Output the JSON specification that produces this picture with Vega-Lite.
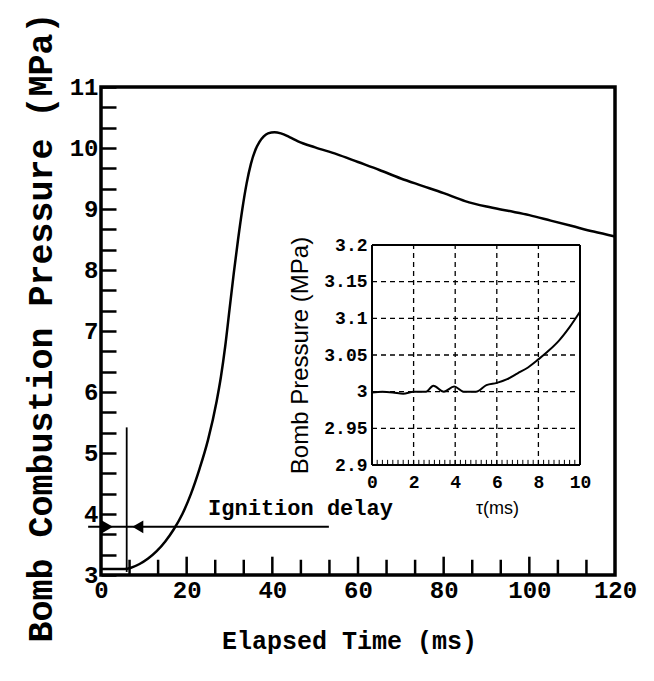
{
  "$schema": "https://vega.github.io/schema/vega-lite/v6.json",
  "width": 514,
  "height": 488,
  "autosize": {"type": "none"},
  "padding": {"left": 101, "top": 87, "right": 39, "bottom": 106},
  "background": "white",
  "config": {
    "view": {"stroke": "black", "strokeWidth": 3.5},
    "axis": {"labelColor": "black", "titleColor": "black", "tickColor": "black", "domainColor": "black", "labelOverlap": false, "labelFlush": false}
  },
  "datasets": {
    "main": [
      {"t": 0, "p": 3.1}, {"t": 3, "p": 3.1}, {"t": 5.5, "p": 3.1}, {"t": 7, "p": 3.12},
      {"t": 9, "p": 3.18}, {"t": 11, "p": 3.27}, {"t": 13, "p": 3.39}, {"t": 15, "p": 3.55},
      {"t": 17, "p": 3.75}, {"t": 19, "p": 4.0}, {"t": 21, "p": 4.33}, {"t": 23, "p": 4.74},
      {"t": 25, "p": 5.22}, {"t": 27, "p": 5.85}, {"t": 28, "p": 6.25}, {"t": 29, "p": 6.75},
      {"t": 30, "p": 7.35}, {"t": 31, "p": 7.95}, {"t": 32, "p": 8.5}, {"t": 33, "p": 9.0},
      {"t": 34, "p": 9.42}, {"t": 35, "p": 9.74}, {"t": 36, "p": 9.96}, {"t": 37, "p": 10.1},
      {"t": 38, "p": 10.19}, {"t": 39, "p": 10.24}, {"t": 40.5, "p": 10.26}, {"t": 42, "p": 10.24},
      {"t": 44, "p": 10.18}, {"t": 46, "p": 10.11}, {"t": 50, "p": 10.01}, {"t": 55, "p": 9.9},
      {"t": 60, "p": 9.77}, {"t": 65, "p": 9.64}, {"t": 70, "p": 9.5}, {"t": 75, "p": 9.38},
      {"t": 80, "p": 9.26}, {"t": 85, "p": 9.13}, {"t": 90, "p": 9.04}, {"t": 95, "p": 8.97},
      {"t": 100, "p": 8.9}, {"t": 105, "p": 8.81}, {"t": 110, "p": 8.72}, {"t": 115, "p": 8.63},
      {"t": 120, "p": 8.55}
    ],
    "inset": [
      {"tau": 0, "p": 2.999}, {"tau": 0.5, "p": 3.0}, {"tau": 1.0, "p": 2.999}, {"tau": 1.5, "p": 2.997},
      {"tau": 2.0, "p": 3.0}, {"tau": 2.6, "p": 3.0}, {"tau": 2.95, "p": 3.008}, {"tau": 3.45, "p": 3.0},
      {"tau": 3.95, "p": 3.007}, {"tau": 4.4, "p": 3.0}, {"tau": 5.0, "p": 3.0}, {"tau": 5.5, "p": 3.009},
      {"tau": 6.0, "p": 3.012}, {"tau": 6.5, "p": 3.017}, {"tau": 7.0, "p": 3.025}, {"tau": 7.5, "p": 3.033},
      {"tau": 8.0, "p": 3.044}, {"tau": 8.5, "p": 3.056}, {"tau": 9.0, "p": 3.07}, {"tau": 9.5, "p": 3.088},
      {"tau": 10.0, "p": 3.109}
    ],
    "tickMajor": [{"v": 20}, {"v": 40}, {"v": 60}, {"v": 80}, {"v": 100}],
    "tickMinor": [{"v": 6.667}, {"v": 13.333}, {"v": 26.667}, {"v": 33.333}, {"v": 46.667}, {"v": 53.333}, {"v": 66.667}, {"v": 73.333}, {"v": 86.667}, {"v": 93.333}, {"v": 106.667}, {"v": 113.333}],
    "tickTau": [{"v": 0.25}, {"v": 0.5}, {"v": 0.75}, {"v": 1}, {"v": 1.25}, {"v": 1.5}, {"v": 1.75}, {"v": 2}, {"v": 2.25}, {"v": 2.5}, {"v": 2.75}, {"v": 3}, {"v": 3.25}, {"v": 3.5}, {"v": 3.75}, {"v": 4}, {"v": 4.25}, {"v": 4.5}, {"v": 4.75}, {"v": 5}, {"v": 5.25}, {"v": 5.5}, {"v": 5.75}, {"v": 6}, {"v": 6.25}, {"v": 6.5}, {"v": 6.75}, {"v": 7}, {"v": 7.25}, {"v": 7.5}, {"v": 7.75}, {"v": 8}, {"v": 8.25}, {"v": 8.5}, {"v": 8.75}, {"v": 9}, {"v": 9.25}, {"v": 9.5}, {"v": 9.75}],
    "gridTau": [{"g": 2}, {"g": 4}, {"g": 6}, {"g": 8}],
    "gridP": [{"g": 2.95}, {"g": 3.0}, {"g": 3.05}, {"g": 3.1}, {"g": 3.15}]
  },
  "layer": [
    {
      "layer": [
        {
          "data": {"name": "main"},
          "mark": {"type": "line", "color": "black", "strokeWidth": 2.5, "interpolate": "monotone"},
          "encoding": {
            "x": {
              "field": "t", "type": "quantitative",
              "scale": {"domain": [0, 120], "nice": false, "zero": false},
              "axis": {
                "orient": "bottom",
                "values": [0, 20, 40, 60, 80, 100, 120],
                "tickCount": 200,
                "format": "d",
                "labelOverlap": false,
                "grid": false, "domain": false, "ticks": false,
                "labelPadding": 3,
                "labelFont": "Liberation Mono", "labelFontWeight": "bold", "labelFontSize": 24,
                "title": "Elapsed Time (ms)",
                "titleFont": "Liberation Mono", "titleFontWeight": "bold", "titleFontSize": 25,
                "titleX": 248, "titleY": 65, "titleAlign": "center", "titleBaseline": "middle"
              }
            },
            "y": {
              "field": "p", "type": "quantitative",
              "scale": {"domain": [3, 11], "nice": false, "zero": false},
              "axis": {
                "orient": "left", "offset": -15,
                "values": [3, 3.333, 3.667, 4, 4.333, 4.667, 5, 5.333, 5.667, 6, 6.333, 6.667, 7, 7.333, 7.667, 8, 8.333, 8.667, 9, 9.333, 9.667, 10, 10.333, 10.667, 11],
                "tickCount": 200,
                "labelExpr": "datum.value % 1 === 0 ? format(datum.value, 'd') : ''",
                "labelOverlap": false,
                "grid": false, "domain": false,
                "ticks": true, "tickSize": 15, "tickWidth": 2.5,
                "labelPadding": 3,
                "labelFont": "Liberation Mono", "labelFontWeight": "bold", "labelFontSize": 24,
                "title": "Bomb Combustion Pressure (MPa)",
                "titleFont": "Liberation Mono", "titleFontWeight": "bold", "titleFontSize": 35,
                "titleX": -76, "titleY": 240, "titleAngle": 270, "titleAlign": "center", "titleBaseline": "middle"
              }
            }
          }
        },
        {
          "data": {"name": "tickMajor"},
          "mark": {"type": "rule", "color": "black", "strokeWidth": 2.5},
          "encoding": {
            "x": {"field": "v", "type": "quantitative"},
            "y": {"datum": 3, "type": "quantitative"},
            "y2": {"datum": 3.3}
          }
        },
        {
          "data": {"name": "tickMinor"},
          "mark": {"type": "rule", "color": "black", "strokeWidth": 2.5},
          "encoding": {
            "x": {"field": "v", "type": "quantitative"},
            "y": {"datum": 3, "type": "quantitative"},
            "y2": {"datum": 3.25}
          }
        },
        {
          "data": {"values": [{}]},
          "mark": {"type": "rule", "color": "black", "strokeWidth": 1.8},
          "encoding": {
            "x": {"datum": 6, "type": "quantitative"},
            "y": {"datum": 3.05, "type": "quantitative"},
            "y2": {"datum": 5.42}
          }
        },
        {
          "data": {"values": [{}]},
          "mark": {"type": "rule", "color": "black", "strokeWidth": 2, "clip": false},
          "encoding": {
            "x": {"datum": -3, "type": "quantitative"},
            "x2": {"datum": 53.2},
            "y": {"datum": 3.79, "type": "quantitative"}
          }
        },
        {
          "data": {"values": [{}]},
          "mark": {"type": "point", "shape": "triangle-right", "filled": true, "color": "black", "size": 160, "opacity": 1},
          "encoding": {
            "x": {"datum": 1.5, "type": "quantitative"},
            "y": {"datum": 3.79, "type": "quantitative"}
          }
        },
        {
          "data": {"values": [{}]},
          "mark": {"type": "point", "shape": "triangle-left", "filled": true, "color": "black", "size": 160, "opacity": 1},
          "encoding": {
            "x": {"datum": 8.6, "type": "quantitative"},
            "y": {"datum": 3.79, "type": "quantitative"}
          }
        },
        {
          "data": {"values": [{}]},
          "mark": {"type": "text", "text": "Ignition delay", "align": "left", "baseline": "middle", "font": "Liberation Mono", "fontWeight": "bold", "fontSize": 22, "color": "black"},
          "encoding": {
            "x": {"datum": 25, "type": "quantitative"},
            "y": {"datum": 4.1, "type": "quantitative"}
          }
        }
      ]
    },
    {
      "layer": [
        {
          "data": {"name": "inset"},
          "mark": {"type": "line", "color": "black", "strokeWidth": 2, "interpolate": "monotone"},
          "encoding": {
            "x": {
              "field": "tau", "type": "quantitative",
              "scale": {"domain": [0, 10], "range": [271, 479], "nice": false, "zero": false},
              "axis": {
                "orient": "bottom", "offset": -110,
                "values": [0, 2, 4, 6, 8, 10],
                "tickCount": 200,
                "format": "d",
                "labelOverlap": false,
                "domain": false, "grid": false, "ticks": false,
                "labelPadding": 8,
                "labelFont": "Liberation Mono", "labelFontWeight": "bold", "labelFontSize": 18,
                "title": "τ(ms)",
                "titleFont": "Liberation Sans", "titleFontWeight": "normal", "titleFontSize": 18,
                "titleX": 396, "titleY": 43, "titleAlign": "center", "titleBaseline": "middle"
              }
            },
            "y": {
              "field": "p", "type": "quantitative",
              "scale": {"domain": [2.9, 3.2], "range": [378, 158], "nice": false, "zero": false},
              "axis": {
                "orient": "left", "offset": -271,
                "values": [2.9, 2.95, 3, 3.05, 3.1, 3.15, 3.2],
                "tickCount": 50,
                "format": "~g",
                "labelOverlap": false,
                "domain": false, "ticks": false, "grid": false,
                "labelPadding": 5,
                "labelFont": "Liberation Mono", "labelFontWeight": "bold", "labelFontSize": 18,
                "title": "Bomb Pressure (MPa)",
                "titleFont": "Liberation Sans", "titleFontWeight": "normal", "titleFontSize": 24,
                "titleX": -72, "titleY": 268, "titleAngle": 270, "titleAlign": "center", "titleBaseline": "middle"
              }
            }
          }
        },
        {
          "data": {"name": "tickTau"},
          "mark": {"type": "rule", "color": "black", "strokeWidth": 1},
          "encoding": {
            "x": {"field": "v", "type": "quantitative"},
            "y": {"datum": 2.9, "type": "quantitative"},
            "y2": {"datum": 2.907}
          }
        },
        {
          "data": {"name": "gridTau"},
          "mark": {"type": "rule", "color": "black", "strokeWidth": 1.3, "strokeDash": [5, 4]},
          "encoding": {
            "x": {"field": "g", "type": "quantitative"},
            "y": {"datum": 2.9, "type": "quantitative"},
            "y2": {"datum": 3.2}
          }
        },
        {
          "data": {"name": "gridP"},
          "mark": {"type": "rule", "color": "black", "strokeWidth": 1.3, "strokeDash": [5, 4]},
          "encoding": {
            "y": {"field": "g", "type": "quantitative"},
            "x": {"datum": 0, "type": "quantitative"},
            "x2": {"datum": 10}
          }
        },
        {
          "data": {"values": [{}]},
          "mark": {"type": "rule", "color": "black", "strokeWidth": 2},
          "encoding": {
            "x": {"datum": 0, "type": "quantitative"},
            "y": {"datum": 2.9, "type": "quantitative"},
            "y2": {"datum": 3.2}
          }
        },
        {
          "data": {"values": [{}]},
          "mark": {"type": "rule", "color": "black", "strokeWidth": 2},
          "encoding": {
            "x": {"datum": 10, "type": "quantitative"},
            "y": {"datum": 2.9, "type": "quantitative"},
            "y2": {"datum": 3.2}
          }
        },
        {
          "data": {"values": [{}]},
          "mark": {"type": "rule", "color": "black", "strokeWidth": 2},
          "encoding": {
            "y": {"datum": 2.9, "type": "quantitative"},
            "x": {"datum": 0, "type": "quantitative"},
            "x2": {"datum": 10}
          }
        },
        {
          "data": {"values": [{}]},
          "mark": {"type": "rule", "color": "black", "strokeWidth": 2},
          "encoding": {
            "y": {"datum": 3.2, "type": "quantitative"},
            "x": {"datum": 0, "type": "quantitative"},
            "x2": {"datum": 10}
          }
        }
      ]
    }
  ],
  "resolve": {"scale": {"x": "independent", "y": "independent"}, "axis": {"x": "independent", "y": "independent"}}
}
